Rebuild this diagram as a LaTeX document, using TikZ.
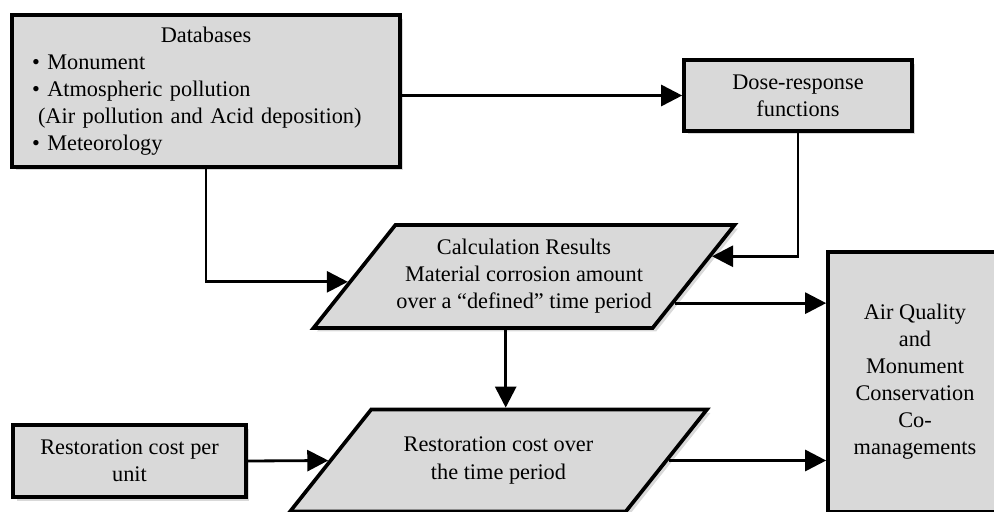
\documentclass[tikz,border=0pt]{standalone}
\usepackage{fontspec}
\setmainfont{Liberation Serif}
\usetikzlibrary{shapes.geometric}
\usetikzlibrary{arrows.meta}
\usetikzlibrary{shadows}
\usetikzlibrary{calc}
\definecolor{box-gray}{HTML}{D9D9D9}
\tikzset{
  info-box/.style={draw, line width=2.1pt, fill=box-gray, inner sep=0pt,
    drop shadow={shadow xshift=0.07cm, shadow yshift=-0.07cm, opacity=0.3}},
  info-para/.style={info-box, trapezium, trapezium left angle=51.5,
    trapezium right angle=128.5, trapezium stretches body},
  flow-path/.style={line width=1.6pt, -{Triangle[length=0.42cm, width=0.42cm]}},
}

\begin{document}
\begin{tikzpicture}[x=0.02cm, y=-0.02cm, font=\fontsize{12.7pt}{15.4pt}\selectfont]
  \useasboundingbox (0,0) rectangle (994,511);

  % inputs
  \node[info-box, minimum width=7.76cm, minimum height=3.04cm, text width=6.96cm] (db) at (206,91) {%
    \parindent=0pt\centering Databases\par\raggedright
    \textbullet\ Monument\par
    \textbullet\ Atmospheric pollution\par
    \hspace*{0.12cm}(Air pollution and Acid deposition)\par
    \textbullet\ Meteorology\par};
  \node[info-box, align=center, minimum width=4.56cm, minimum height=1.42cm] (dose) at (798,95.5) {Dose-response\\functions};
  \node[info-box, align=center, minimum width=4.66cm, minimum height=1.44cm] (rcost) at (129.5,461) {Restoration cost per\\unit};

  % results
  \node[info-para, align=center, minimum width=8.42cm, inner ysep=0.285cm] (calc) at (524,276.5) {Calculation Results\\Material corrosion amount\\over a ``defined'' time period};
  \node[info-para, align=center, minimum width=8.34cm, inner ysep=0.555cm] (rest) at (498.5,460.5) {Restoration cost over\\the time period};
  \node[info-box, align=center, minimum width=3.48cm, minimum height=5.2cm] (aq) at (915,382) {Air Quality\\and\\Monument\\Conservation\\Co-\\managements};

  % points on the slanted sides
  \coordinate (calc-in) at ($(calc.top left corner)!0.55!(calc.bottom left corner)$);
  \coordinate (calc-back) at ($(calc.top right corner)!0.31!(calc.bottom right corner)$);
  \coordinate (calc-out) at ($(calc.top right corner)!0.75!(calc.bottom right corner)$);
  \coordinate (calc-down) at ($(calc.bottom left corner)!0.57!(calc.bottom right corner)$);

  \draw[flow-path] (db.east |- dose.west) -- (dose.west);
  \draw[flow-path] (db.south) |- (calc-in);
  \draw[flow-path] (dose.south) |- (calc-back);
  \draw[flow-path] (calc-out) -- (calc-out -| aq.west);
  \draw[flow-path] (calc-down) -- (calc-down |- rest.north);
  \draw[flow-path] (rcost.east) -- (rest.left side);
  \draw[flow-path] (rest.right side) -- (rest.right side -| aq.west);
\end{tikzpicture}
\end{document}
